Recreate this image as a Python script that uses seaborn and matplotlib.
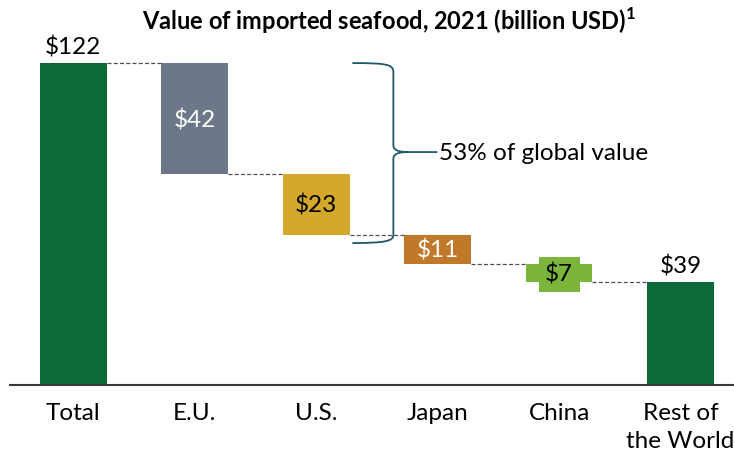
import matplotlib
matplotlib.use("Agg")
import matplotlib.pyplot as plt
import seaborn as sns
import pandas as pd
from matplotlib.path import Path
from matplotlib.patches import PathPatch

categories = ["Total", "E.U.", "U.S.", "Japan", "China", "Rest of\nthe World"]
values = [122, 42, 23, 11, 7, 39]
kinds = ["total", "step", "step", "step", "step", "total"]
labels = ["$122", "$42", "$23", "$11", "$7", "$39"]
colors = ["#0B6A37", "#6C7889", "#D4A82B", "#C0782B", "#7CB53B", "#0B6A37"]
label_colors = ["black", "white", "black", "white", "black", "black"]
title = "Value of imported seafood, 2021 (billion USD)$^{\\mathbf{1}}$"
brace_text = "53% of global value"

# waterfall bottoms
bottoms = []
running = 0
for v, k in zip(values, kinds):
    if k == "total":
        bottoms.append(0)
        running = v
    else:
        running -= v
        bottoms.append(running)

sns.set_theme(style="white")
plt.rcParams["font.family"] = ["Lato", "DejaVu Sans"]
plt.rcParams["mathtext.fontset"] = "custom"
plt.rcParams["mathtext.rm"] = "Lato"
plt.rcParams["mathtext.bf"] = "Lato:bold"

FS = 17.5

fig = plt.figure(figsize=(7.34, 4.59), dpi=100)
ax = fig.add_axes([10 / 734, 74 / 459, 724 / 734, 340 / 459])

df = pd.DataFrame({"cat": categories, "val": values})
sns.barplot(data=df, x="cat", y="val", hue="cat", palette=colors,
            order=categories, hue_order=categories, width=0.55,
            legend=False, ax=ax, saturation=1)

# shift bars to waterfall positions
for p in ax.patches:
    i = int(round(p.get_x() + p.get_width() / 2))
    p.set_y(bottoms[i])
    p.set_height(values[i])
    p.set_edgecolor("none")

ax.set_xlim(-0.52, 5.44)
ax.set_ylim(0, 122 * 340 / 322)
ax.set_xlabel("")
ax.set_ylabel("")
ax.set_yticks([])
for s in ["top", "left", "right"]:
    ax.spines[s].set_visible(False)
ax.spines["bottom"].set_color("#3a3a3a")
ax.spines["bottom"].set_linewidth(1.5)
ax.tick_params(axis="x", length=0, pad=13, labelsize=FS, colors="black")
for t in ax.get_xticklabels():
    t.set_linespacing(1.38)
    t.set_verticalalignment("top")

w = 0.55
# connectors
for i in range(len(values) - 1):
    level = bottoms[i] + values[i] if kinds[i] == "total" else bottoms[i]
    ax.plot([i + w / 2, i + 1 - w / 2], [level, level], color="#505050",
            lw=0.9, ls=(0, (3.2, 1.8)), zorder=1)

# labels
for i, (v, b) in enumerate(zip(values, bottoms)):
    if kinds[i] == "total":
        ax.annotate(labels[i], (i, b + v), xytext=(0, 3), textcoords="offset points",
                    ha="center", va="bottom", fontsize=FS, color=label_colors[i])
    else:
        kw = {}
        if v < 9:
            kw["bbox"] = dict(boxstyle="square,pad=0.27", fc=colors[i], ec="none")
        ax.text(i, b + v / 2 - 0.6, labels[i], ha="center", va="center", fontsize=FS,
                color=label_colors[i], zorder=5, **kw)

# brace (pixel-ish coordinates converted to data)
def P(px, py):
    return ((px - 73) / 121.4, (385 - py) / 2.64)

verts = [P(352, 63), P(385, 63), P(393, 64), P(393, 72),
         P(393, 145),
         P(393, 150), P(398, 152), P(407, 152),
         P(437, 152),
         P(407, 152),
         P(398, 152), P(393, 154), P(393, 159),
         P(393, 235),
         P(393, 241), P(385, 243), P(352, 243)]
codes = [Path.MOVETO, Path.CURVE4, Path.CURVE4, Path.CURVE4,
         Path.LINETO,
         Path.CURVE4, Path.CURVE4, Path.CURVE4,
         Path.LINETO,
         Path.MOVETO,
         Path.CURVE4, Path.CURVE4, Path.CURVE4,
         Path.LINETO,
         Path.CURVE4, Path.CURVE4, Path.CURVE4]
ax.add_patch(PathPatch(Path(verts, codes), fc="none", ec="#1F5A6B", lw=1.3, zorder=4))
tx, ty = P(439, 153)
ax.text(tx, ty, brace_text, ha="left", va="center", fontsize=FS, color="black")

fig.text(389 / 734, 1 - 21 / 459, title, ha="center", va="center",
         fontsize=17, fontweight="bold", color="black")

fig.savefig("out.png", dpi=100, facecolor="white")
